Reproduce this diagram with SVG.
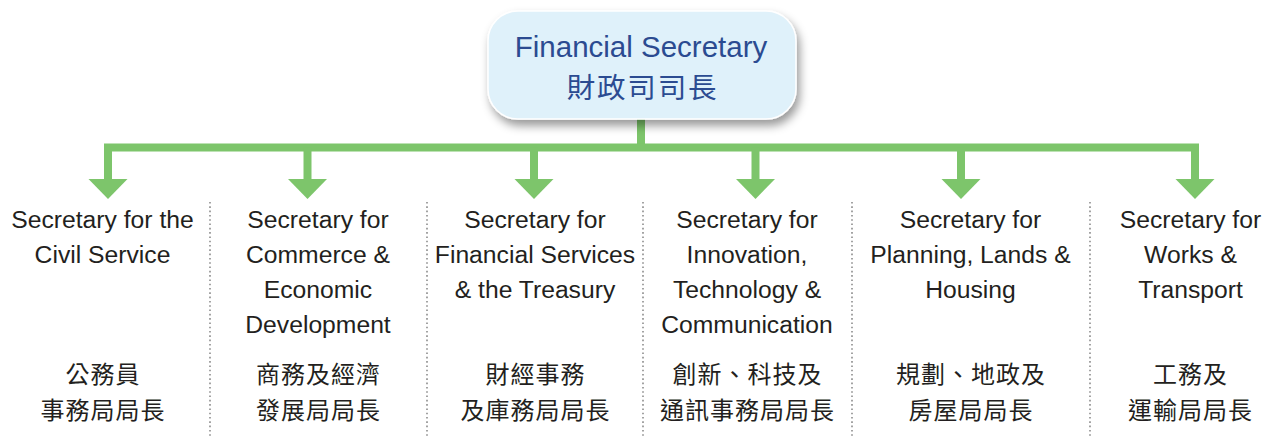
<svg xmlns="http://www.w3.org/2000/svg" width="1272" height="438" viewBox="0 0 1272 438">
  <defs>
    <filter id="boxShadow" x="-20%" y="-30%" width="140%" height="170%">
      <feDropShadow dx="3" dy="6" stdDeviation="5" flood-color="#000" flood-opacity="0.4"/>
    </filter>
    <polygon id="arrowHead" points="-19.5,0 19.5,0 0,20"/>
  </defs>
  <style>
    .wire { fill: none; stroke: #7dc56b; stroke-width: 8; stroke-linejoin: miter; stroke-linecap: butt; }
    .head { fill: #7dc56b; }
    .sep { stroke: #8c8c8c; stroke-width: 1.6; stroke-dasharray: 1.6 2.7; fill: none; }
    .en { font-family: "Liberation Sans", Arial, sans-serif; font-size: 24.7px; fill: #231f20; text-anchor: middle; }
    .zh { font-family: "Noto Sans CJK TC", "Noto Sans CJK SC", sans-serif; font-size: 24px; font-weight: 400; fill: #231f20; text-anchor: middle; letter-spacing: 1px; }
    .topEn { font-family: "Liberation Sans", Arial, sans-serif; font-size: 29.5px; fill: #2b4b91; text-anchor: middle; }
    .topZh { font-family: "Noto Sans CJK TC", "Noto Sans CJK SC", sans-serif; font-size: 28.5px; fill: #2b4b91; text-anchor: middle; letter-spacing: 1.8px; }
  </style>

  <!-- column separators -->
  <g id="separators">
    <line class="sep" x1="210" y1="202" x2="210" y2="438"/>
    <line class="sep" x1="427" y1="202" x2="427" y2="438"/>
    <line class="sep" x1="643" y1="202" x2="643" y2="438"/>
    <line class="sep" x1="852" y1="202" x2="852" y2="438"/>
    <line class="sep" x1="1090" y1="202" x2="1090" y2="438"/>
  </g>

  <!-- connectors: trunk, bus bar, drops and arrowheads -->
  <g id="connectors">
    <path class="wire" d="M641,118 V147.5"/>
    <path class="wire" d="M108,180 V147.5 H1195 V180"/>
    <path class="wire" d="M307.5,147.5 V180"/>
    <path class="wire" d="M534,147.5 V180"/>
    <path class="wire" d="M755.5,147.5 V180"/>
    <path class="wire" d="M961,147.5 V180"/>
    <use href="#arrowHead" class="head" x="108" y="179"/>
    <use href="#arrowHead" class="head" x="307.5" y="179"/>
    <use href="#arrowHead" class="head" x="534" y="179"/>
    <use href="#arrowHead" class="head" x="755.5" y="179"/>
    <use href="#arrowHead" class="head" x="961" y="179"/>
    <use href="#arrowHead" class="head" x="1195" y="179"/>
  </g>

  <!-- head of bureau -->
  <g id="financial-secretary">
    <rect x="488" y="11" width="308" height="108" rx="30" ry="30" fill="#dff1fa" stroke="#ffffff" stroke-width="1.5" filter="url(#boxShadow)"/>
    <text class="topEn" x="641" y="57">Financial Secretary</text>
    <text class="topZh" x="642.5" y="98">財政司司長</text>
  </g>

  <g id="sec-civil-service">
    <text class="en" x="102.5" y="228">Secretary for the</text>
    <text class="en" x="102.5" y="263">Civil Service</text>
    <text class="zh" x="103" y="383">公務員</text>
    <text class="zh" x="103" y="418.5">事務局局長</text>
  </g>

  <g id="sec-commerce">
    <text class="en" x="318" y="228">Secretary for</text>
    <text class="en" x="318" y="263">Commerce &amp;</text>
    <text class="en" x="318" y="298">Economic</text>
    <text class="en" x="318" y="333">Development</text>
    <text class="zh" x="318.5" y="383">商務及經濟</text>
    <text class="zh" x="318.5" y="418.5">發展局局長</text>
  </g>

  <g id="sec-financial-services">
    <text class="en" x="535" y="228">Secretary for</text>
    <text class="en" x="535" y="263">Financial Services</text>
    <text class="en" x="535" y="298">&amp; the Treasury</text>
    <text class="zh" x="535.5" y="383">財經事務</text>
    <text class="zh" x="535.5" y="418.5">及庫務局局長</text>
  </g>

  <g id="sec-innovation">
    <text class="en" x="747" y="228">Secretary for</text>
    <text class="en" x="747" y="263">Innovation,</text>
    <text class="en" x="747" y="298">Technology &amp;</text>
    <text class="en" x="747" y="333">Communication</text>
    <text class="zh" x="747.5" y="383">創新、科技及</text>
    <text class="zh" x="747.5" y="418.5">通訊事務局局長</text>
  </g>

  <g id="sec-planning">
    <text class="en" x="970.5" y="228">Secretary for</text>
    <text class="en" x="970.5" y="263">Planning, Lands &amp;</text>
    <text class="en" x="970.5" y="298">Housing</text>
    <text class="zh" x="971" y="383">規劃、地政及</text>
    <text class="zh" x="971" y="418.5">房屋局局長</text>
  </g>

  <g id="sec-works">
    <text class="en" x="1190.5" y="228">Secretary for</text>
    <text class="en" x="1190.5" y="263">Works &amp;</text>
    <text class="en" x="1190.5" y="298">Transport</text>
    <text class="zh" x="1190.5" y="383">工務及</text>
    <text class="zh" x="1190.5" y="418.5">運輸局局長</text>
  </g>
</svg>
